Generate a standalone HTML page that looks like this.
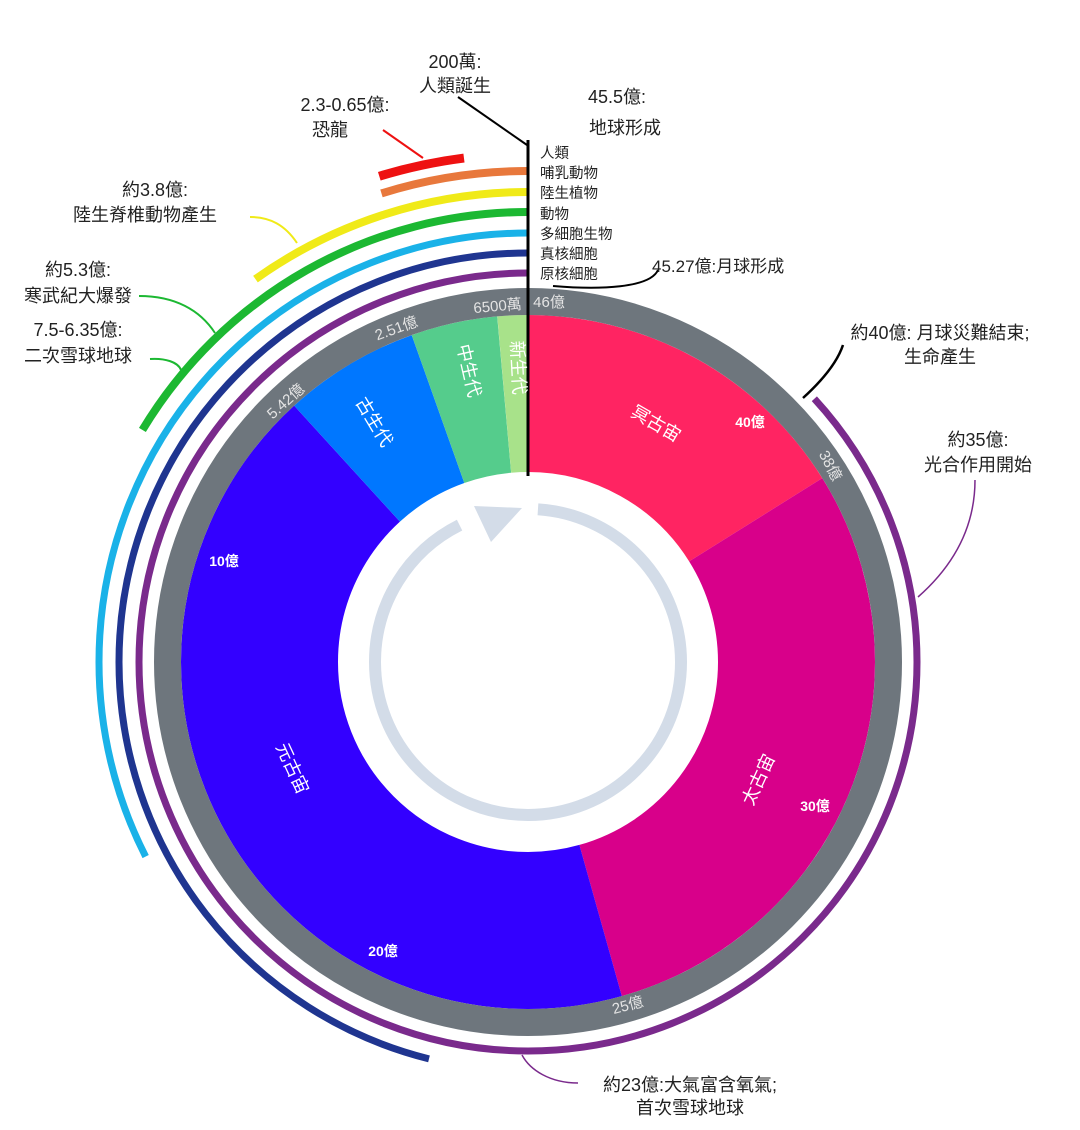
<!DOCTYPE html>
<html><head><meta charset="utf-8"><style>
html,body{margin:0;padding:0;background:#fff;}
svg{display:block;}
text{font-family:"Liberation Sans","Noto Sans CJK TC",sans-serif;}
</style></head><body>
<svg width="1080" height="1130" viewBox="0 0 1080 1130" xmlns="http://www.w3.org/2000/svg">
<g transform="rotate(-90 528 662)" fill="none">
  <circle cx="528" cy="662" r="268.5" stroke="#ff2462" stroke-width="157" stroke-dasharray="271.8 2000" stroke-dashoffset="0"/>
  <circle cx="528" cy="662" r="268.5" stroke="#d8008a" stroke-width="157" stroke-dasharray="498.1 2000" stroke-dashoffset="-271.8"/>
  <circle cx="528" cy="662" r="268.5" stroke="#3300ff" stroke-width="157" stroke-dasharray="718.4 2000" stroke-dashoffset="-769.9"/>
  <circle cx="528" cy="662" r="268.5" stroke="#0077ff" stroke-width="157" stroke-dasharray="106.8 2000" stroke-dashoffset="-1488.3"/>
  <circle cx="528" cy="662" r="268.5" stroke="#55cc8c" stroke-width="157" stroke-dasharray="67.9 2000" stroke-dashoffset="-1595.1"/>
  <circle cx="528" cy="662" r="268.5" stroke="#a8e28a" stroke-width="157" stroke-dasharray="24 2000" stroke-dashoffset="-1663.1"/>
  <circle cx="528" cy="662" r="360.5" stroke="#6e767d" stroke-width="27"/>
  <circle cx="528" cy="662" r="389" stroke="#7a2a8c" stroke-width="7" stroke-dasharray="2122.4 3000" stroke-dashoffset="-321.8"/>
  <circle cx="528" cy="662" r="409" stroke="#1f3590" stroke-width="7" stroke-dasharray="1184.9 3000" stroke-dashoffset="-1384.8"/>
  <circle cx="528" cy="662" r="429" stroke="#1ab2e8" stroke-width="7" stroke-dasharray="876 3000" stroke-dashoffset="-1819.5"/>
  <circle cx="528" cy="662" r="450" stroke="#1cb832" stroke-width="8" stroke-dasharray="463.4 3000" stroke-dashoffset="-2364.1"/>
  <circle cx="528" cy="662" r="470" stroke="#f0ea18" stroke-width="8" stroke-dasharray="291.2 3000" stroke-dashoffset="-2662.1"/>
  <circle cx="528" cy="662" r="491" stroke="#e8783c" stroke-width="8" stroke-dasharray="149.1 4000" stroke-dashoffset="-2935.9"/>
  <circle cx="528" cy="662" r="508" stroke="#ee1111" stroke-width="9" stroke-dasharray="86.7 4000" stroke-dashoffset="-3040.6"/>
  <circle cx="528" cy="662" r="153" stroke="#d3dce8" stroke-width="12" stroke-dasharray="880 2000" stroke-dashoffset="-10"/>
</g>
<polygon points="522,508 491,542 474,506" fill="#d3dce8"/>
<line x1="528" y1="140" x2="528" y2="476" stroke="#000" stroke-width="3"/>
<line x1="458" y1="97" x2="527" y2="145" stroke="#000" stroke-width="2"/>
<line x1="383" y1="130" x2="423" y2="158" stroke="#ee1111" stroke-width="2"/>
<path d="M553,286 C600,290 650,288 658,270" fill="none" stroke="#000" stroke-width="2"/>
<path d="M803,398 C825,378 838,360 843,345" fill="none" stroke="#000" stroke-width="2.5"/>
<path d="M918,597 C960,560 975,520 975,480" fill="none" stroke="#7a2a8c" stroke-width="1.5"/>
<path d="M297,243 C285,225 270,217 250,217" fill="none" stroke="#f0ea18" stroke-width="2"/>
<path d="M215,333 C200,310 175,296 139,296" fill="none" stroke="#1cb832" stroke-width="2"/>
<path d="M181,370 C178,362 165,358 150,359" fill="none" stroke="#1cb832" stroke-width="2"/>
<path d="M522,1055 C530,1070 550,1083 578,1083" fill="none" stroke="#7a2a8c" stroke-width="1.5"/>
<g fill="#222" font-size="18" text-anchor="middle">
<text x="455" y="68">200萬:</text>
<text x="455" y="92">人類誕生</text>
<text x="345" y="111">2.3-0.65億:</text>
<text x="330" y="136">恐龍</text>
<text x="617" y="103">45.5億:</text>
<text x="625" y="134">地球形成</text>
<text x="940" y="339">約40億: 月球災難結束;</text>
<text x="940" y="363">生命產生</text>
<text x="978" y="446">約35億:</text>
<text x="978" y="471">光合作用開始</text>
<text x="690" y="1091">約23億:大氣富含氧氣;</text>
<text x="690" y="1114">首次雪球地球</text>
<text x="155" y="196">約3.8億:</text>
<text x="145" y="221">陸生脊椎動物產生</text>
<text x="78" y="276">約5.3億:</text>
<text x="78" y="302">寒武紀大爆發</text>
<text x="78" y="336">7.5-6.35億:</text>
<text x="78" y="362">二次雪球地球</text>
</g>
<text x="652" y="272" font-size="17" fill="#222">45.27億:月球形成</text>
<g fill="#222" font-size="14.5">
<text x="540" y="158">人類</text>
<text x="540" y="178">哺乳動物</text>
<text x="540" y="198">陸生植物</text>
<text x="540" y="219">動物</text>
<text x="540" y="239">多細胞生物</text>
<text x="540" y="259">真核細胞</text>
<text x="540" y="279">原核細胞</text>
</g>
<g fill="#e4e4e4" font-size="15" text-anchor="middle">
<text x="549" y="307">46億</text>
<text x="0" y="0" transform="translate(498,311) rotate(-5)">6500萬</text>
<text x="0" y="0" transform="translate(398,333) rotate(-20)">2.51億</text>
<text x="0" y="0" transform="translate(289,405) rotate(-42)">5.42億</text>
<text x="0" y="0" transform="translate(826,468) rotate(62)">38億</text>
<text x="0" y="0" transform="translate(629,1010) rotate(-15)">25億</text>
</g>
<g fill="#fff" font-size="18" text-anchor="middle">
<text x="0" y="0" transform="translate(653,429) rotate(30)">冥古宙</text>
<text x="0" y="0" transform="translate(764,782) rotate(-65)">太古宙</text>
<text x="0" y="0" transform="translate(287,771) rotate(65)">元古宙</text>
<text x="0" y="0" transform="translate(369,425) rotate(59)">古生代</text>
<text x="0" y="0" transform="translate(463,372) rotate(77)">中生代</text>
<text x="0" y="0" transform="translate(512,368) rotate(87)">新生代</text>
</g>
<g fill="#fff" font-size="14" font-weight="bold" text-anchor="middle">
<text x="750" y="427">40億</text>
<text x="815" y="811">30億</text>
<text x="224" y="566">10億</text>
<text x="383" y="956">20億</text>
</g>
</svg>
</body></html>
